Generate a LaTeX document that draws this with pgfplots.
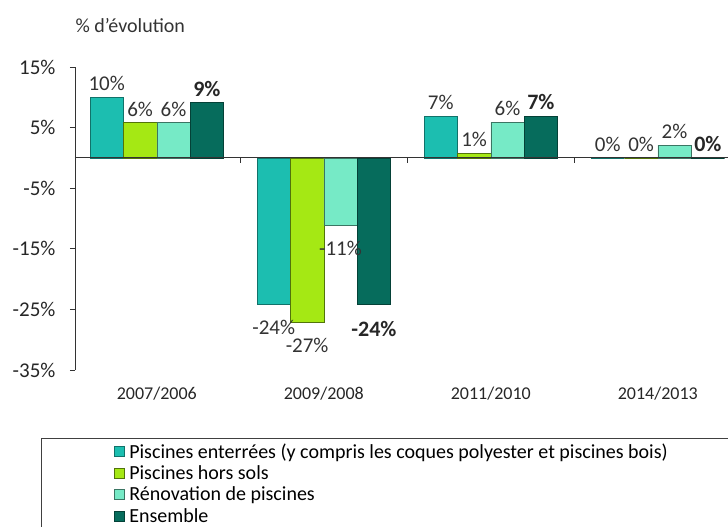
\documentclass[border=0pt]{standalone}
\usepackage{pgfplots}
\pgfplotsset{compat=1.18}
\usepackage{fontspec}
\setmainfont{Carlito}

\definecolor{c1}{RGB}{28,190,176}
\definecolor{c2}{RGB}{165,232,20}
\definecolor{c3}{RGB}{118,234,198}
\definecolor{c4}{RGB}{6,108,92}

\begin{document}
\begin{tikzpicture}
\path[use as bounding box] (-75pt,-157pt) rectangle (653pt,370pt);
\begin{axis}[
  x=167pt, y=6.06pt, scale only axis,
  xmin=-0.49, xmax=3.42, ymin=-35, ymax=15,
  /pgf/number format/assume math mode=true,
  axis y line*=left, axis x line*=bottom,
  x axis line style={draw=none},
  y axis line style={black!80, line width=0.8pt},
  ybar=0pt, bar width=33.4pt,
  xtick={0,1,2,3},
  xticklabels={2007/2006,2009/2008,2011/2010,2014/2013},
  xtick style={draw=none},
  xticklabel style={font=\fontsize{18}{20}\selectfont, yshift=-8pt, text=black!85},
  ytick={-35,-25,...,15},
  yticklabel={\pgfmathprintnumber{\tick}\%},
  yticklabel style={font=\fontsize{21}{23}\selectfont, xshift=-11pt, text=black!85},
  ytick style={black!80, line width=0.8pt},
  tick align=outside, major tick length=5pt,
  point meta=y,
  visualization depends on={y \as \myy},
  nodes near coords={\pgfmathprintnumber[fixed,precision=0]{\pgfplotspointmeta}\%},
  nodes near coords align=vertical,
  every node near coord/.append style={font=\fontsize{21}{23}\selectfont, inner sep=4pt, text=black!80,
     yshift={(\myy<0)*(-12)+(\myy>=0)*2}},
  legend style={at={(0.059,-0.235)}, anchor=north west, draw=none, fill=none,
    font=\fontsize{20}{22}\selectfont, row sep=2pt, inner sep=0pt,
    /tikz/every odd column/.append style={column sep=3pt}},
  legend cell align=left,
  legend image code/.code={\draw[#1,line width=0.6pt] (0pt,-5pt) rectangle (10pt,5pt);},
]
\addplot[fill=c1, draw=c1!60!black, line width=0.6pt] coordinates {(0,10) (1,-24.1) (2,6.9) (3,0)};
\addplot[fill=c2, draw=c2!50!black, line width=0.6pt] coordinates {(0,5.8) (1,-27.1) (2,0.8) (3,0)};
\addplot[fill=c3, draw=c3!50!black, line width=0.6pt] coordinates {(0,5.8) (1,-11.05) (2,5.9) (3,2.1)};
\addplot[fill=c4, draw=c4!60!black, line width=0.6pt,
  every node near coord/.append style={font=\bfseries\fontsize{22}{24}\selectfont, text=black!85}] coordinates {(0,9.1) (1,-24.2) (2,6.9) (3,0)};
\legend{Piscines enterrées (y compris les coques polyester et piscines bois), Piscines hors sols, Rénovation de piscines, Ensemble}
\draw[black!80, line width=0.8pt] (axis cs:-0.49,0) -- (axis cs:3.42,0);
\draw[black!80, line width=0.8pt] (axis cs:0.5,0) -- ++(0pt,-5pt);
\draw[black!80, line width=0.8pt] (axis cs:1.5,0) -- ++(0pt,-5pt);
\draw[black!80, line width=0.8pt] (axis cs:2.5,0) -- ++(0pt,-5pt);
\end{axis}
\node[anchor=base west, font=\fontsize{20}{22}\selectfont, text=black!80] at (-3pt,337pt) {\% d'évolution};
\draw[black!75, line width=0.8pt] (-34pt,-68pt) rectangle (700pt,-200pt);
\end{tikzpicture}
\end{document}
